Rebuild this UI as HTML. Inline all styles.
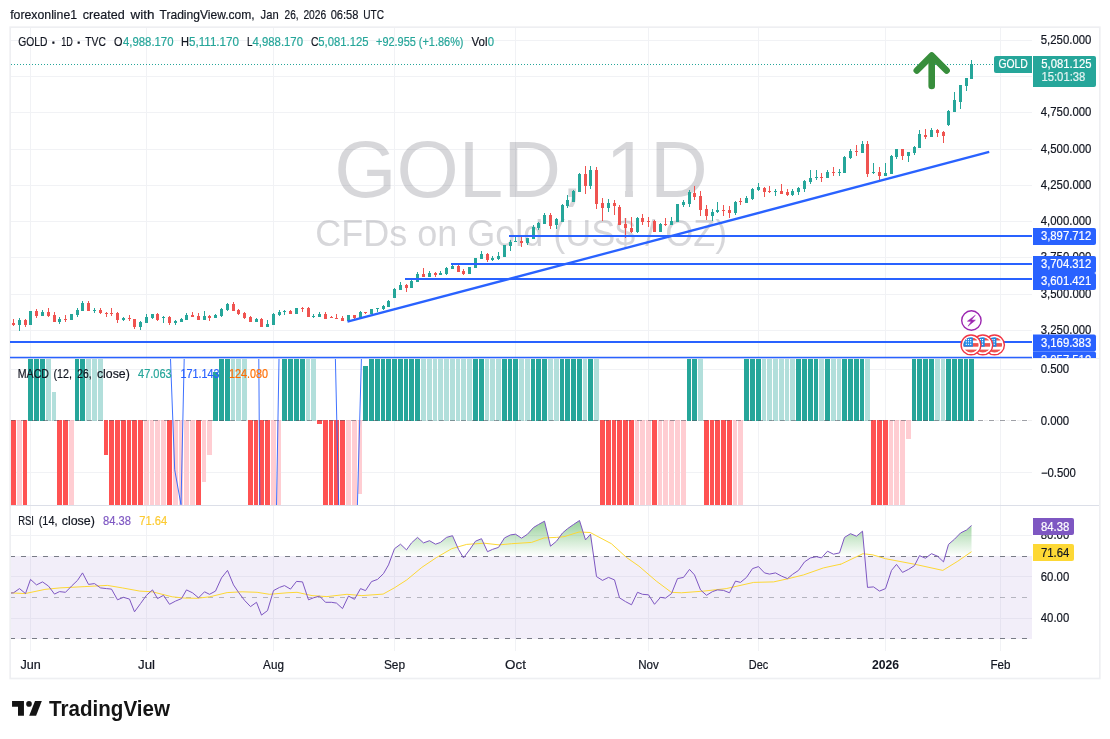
<!DOCTYPE html>
<html lang="en"><head><meta charset="utf-8"><title>GOLD 1D chart</title>
<style>html,body{margin:0;padding:0;background:#fff}svg{display:block;will-change:transform}text{white-space:pre}</style>
</head><body>
<svg width="1110" height="739" viewBox="0 0 1110 739" font-family='"Liberation Sans", sans-serif'>
<defs>
<linearGradient id="obg" gradientUnits="userSpaceOnUse" x1="0" y1="494.4" x2="0" y2="556.2"><stop offset="0" stop-color="#4caf50" stop-opacity="1"/><stop offset="1" stop-color="#4caf50" stop-opacity="0"/></linearGradient>
<clipPath id="cpMain"><rect x="10" y="28" width="1022" height="330"/></clipPath>
<clipPath id="cpMacd"><rect x="11" y="359" width="1021" height="146"/></clipPath>
<clipPath id="cpRsi"><rect x="11" y="506" width="1021" height="144"/></clipPath>
<clipPath id="cpScale"><rect x="1032" y="28" width="67.5" height="330"/></clipPath>
<clipPath id="cpFlag"><circle cx="0" cy="0" r="7.6"/></clipPath>
<clipPath id="cpOne"><path d="M600.45 100H655.45V189.9H600.45zM625.0500000000001 189H632.95V200H625.0500000000001z"/></clipPath>
</defs>
<rect width="1110" height="739" fill="#fff"/>
<text y="18.9" font-size="13" fill="#131722" stroke="#131722" stroke-width="0.2"><tspan x="10.2" textLength="66.9" lengthAdjust="spacingAndGlyphs">forexonline1</tspan><tspan x="79.3"> </tspan><tspan x="82.8" textLength="41.9" lengthAdjust="spacingAndGlyphs">created</tspan><tspan x="127.0"> </tspan><tspan x="130.5" textLength="23.9" lengthAdjust="spacingAndGlyphs">with</tspan><tspan x="156.0"> </tspan><tspan x="159.5" textLength="95.2" lengthAdjust="spacingAndGlyphs">TradingView.com,</tspan><tspan x="257.1"> </tspan><tspan x="260.6" textLength="18" lengthAdjust="spacingAndGlyphs">Jan</tspan><tspan x="281.1"> </tspan><tspan x="284.6" textLength="14" lengthAdjust="spacingAndGlyphs">26,</tspan><tspan x="299.9"> </tspan><tspan x="303.4" textLength="22.8" lengthAdjust="spacingAndGlyphs">2026</tspan><tspan x="327.2"> </tspan><tspan x="330.7" textLength="27.7" lengthAdjust="spacingAndGlyphs">06:58</tspan><tspan x="359.7"> </tspan><tspan x="363.2" textLength="20.8" lengthAdjust="spacingAndGlyphs">UTC</tspan></text>
<rect x="10.2" y="27.2" width="1089.6" height="651.3" fill="#fff" stroke="#eeeff2" stroke-width="1.7"/>
<path d="M30.5 28V651 M146.5 28V651 M273.5 28V651 M394.5 28V651 M515.5 28V651 M648.5 28V651 M758.5 28V651 M885.5 28V651 M1000.5 28V651 M11 40.5H1032 M11 76.5H1032 M11 112.5H1032 M11 149.5H1032 M11 185.5H1032 M11 221.5H1032 M11 257.5H1032 M11 294.5H1032 M11 330.5H1032 M11 369.5H1032 M11 472.5H1032 M11 535.5H1032 M11 576.5H1032 M11 618.5H1032" stroke="#f1f2f5" stroke-width="1" fill="none"/>
<g fill="#50535e" fill-opacity="0.23">
<text x="334.3" y="196.8" font-size="80">GOLD, </text>
<g clip-path="url(#cpOne)"><text x="605.45" y="196.8" font-size="80">1</text></g>
<text x="649.95" y="196.8" font-size="80">D</text>
<text x="521.3" y="246.3" font-size="36" text-anchor="middle">CFDs on Gold (US$ / OZ)</text>
</g>
<g clip-path="url(#cpMain)">
<path d="M11 64.5H993" stroke="#26a69a" stroke-width="1" stroke-dasharray="1 2" fill="none"/>
<path d="M19 318h1V331h-1zM18 320h3V325h-3zM30 311h1V325h-1zM29 311h3V325h-3zM42 310h1V316h-1zM41 312h3V316h-3zM59 317h1V324h-1zM58 319h3V322h-3zM71 314h1V320h-1zM70 314h3V320h-3zM77 308h1V317h-1zM76 310h3V315h-3zM82 301h1V311h-1zM81 303h3V311h-3zM94 308h1V313h-1zM93 310h3V311h-3zM123 317h1V321h-1zM122 318h3V320h-3zM140 321h1V330h-1zM139 322h3V327h-3zM146 314h1V323h-1zM145 317h3V323h-3zM152 314h1V319h-1zM151 314h3V318h-3zM163 316h1V323h-1zM162 317h3V318h-3zM175 320h1V325h-1zM174 321h3V323h-3zM181 318h1V322h-1zM180 319h3V322h-3zM186 313h1V320h-1zM185 315h3V320h-3zM204 311h1V320h-1zM203 316h3V320h-3zM215 314h1V318h-1zM214 315h3V318h-3zM221 308h1V317h-1zM220 309h3V316h-3zM227 303h1V311h-1zM226 304h3V310h-3zM256 318h1V322h-1zM255 319h3V322h-3zM267 320h1V327h-1zM266 324h3V327h-3zM273 313h1V325h-1zM272 314h3V325h-3zM279 310h1V316h-1zM278 312h3V315h-3zM284 310h1V315h-1zM283 311h3V312h-3zM296 308h1V314h-1zM295 308h3V314h-3zM313 314h1V318h-1zM312 316h3V317h-3zM319 312h1V317h-1zM318 314h3V317h-3zM348 315h1V321h-1zM347 315h3V321h-3zM360 311h1V318h-1zM359 312h3V318h-3zM371 309h1V314h-1zM370 309h3V314h-3zM377 308h1V312h-1zM376 308h3V309h-3zM383 305h1V310h-1zM382 306h3V309h-3zM388 300h1V307h-1zM387 301h3V307h-3zM394 288h1V298h-1zM393 289h3V298h-3zM400 282h1V290h-1zM399 285h3V290h-3zM411 279h1V288h-1zM410 281h3V288h-3zM417 272h1V282h-1zM416 274h3V282h-3zM429 271h1V277h-1zM428 273h3V277h-3zM440 271h1V275h-1zM439 273h3V275h-3zM446 267h1V275h-1zM445 268h3V274h-3zM452 264h1V269h-1zM451 266h3V269h-3zM469 267h1V274h-1zM468 267h3V274h-3zM475 258h1V268h-1zM474 258h3V268h-3zM481 251h1V259h-1zM480 254h3V259h-3zM492 256h1V261h-1zM491 258h3V260h-3zM498 252h1V260h-1zM497 256h3V259h-3zM504 245h1V257h-1zM503 245h3V257h-3zM510 240h1V251h-1zM509 242h3V246h-3zM515 236h1V242h-1zM514 241h3V242h-3zM527 238h1V245h-1zM526 238h3V243h-3zM533 225h1V239h-1zM532 227h3V239h-3zM538 222h1V230h-1zM537 223h3V228h-3zM544 213h1V224h-1zM543 215h3V224h-3zM556 218h1V229h-1zM555 219h3V225h-3zM562 204h1V222h-1zM561 205h3V222h-3zM567 195h1V208h-1zM566 200h3V206h-3zM573 190h1V202h-1zM572 191h3V202h-3zM579 173h1V192h-1zM578 174h3V192h-3zM590 166h1V189h-1zM589 170h3V186h-3zM608 199h1V212h-1zM607 203h3V208h-3zM637 217h1V233h-1zM636 218h3V232h-3zM660 223h1V232h-1zM659 224h3V232h-3zM671 217h1V225h-1zM670 221h3V225h-3zM677 204h1V222h-1zM676 204h3V222h-3zM683 200h1V207h-1zM682 202h3V205h-3zM689 190h1V207h-1zM688 192h3V204h-3zM712 209h1V221h-1zM711 212h3V216h-3zM717 202h1V213h-1zM716 210h3V212h-3zM735 201h1V215h-1zM734 202h3V213h-3zM746 196h1V203h-1zM745 198h3V203h-3zM752 188h1V200h-1zM751 189h3V199h-3zM758 183h1V191h-1zM757 187h3V190h-3zM775 189h1V196h-1zM774 191h3V192h-3zM792 189h1V196h-1zM791 191h3V195h-3zM798 187h1V195h-1zM797 188h3V192h-3zM804 180h1V192h-1zM803 181h3V189h-3zM810 170h1V184h-1zM809 178h3V182h-3zM816 170h1V180h-1zM815 177h3V178h-3zM827 170h1V178h-1zM826 172h3V178h-3zM839 169h1V176h-1zM838 172h3V173h-3zM844 156h1V173h-1zM843 157h3V173h-3zM850 149h1V159h-1zM849 151h3V158h-3zM862 141h1V153h-1zM861 144h3V153h-3zM873 163h1V174h-1zM872 172h3V173h-3zM885 163h1V176h-1zM884 173h3V176h-3zM891 155h1V174h-1zM890 156h3V174h-3zM896 149h1V159h-1zM895 149h3V157h-3zM908 152h1V162h-1zM907 152h3V156h-3zM914 146h1V155h-1zM913 147h3V153h-3zM919 130h1V148h-1zM918 134h3V148h-3zM931 128h1V137h-1zM930 130h3V137h-3zM948 110h1V126h-1zM947 111h3V125h-3zM954 92h1V112h-1zM953 100h3V112h-3zM960 85h1V109h-1zM959 85h3V102h-3zM966 78h1V91h-1zM965 78h3V86h-3zM971 60h1V79h-1zM970 64h3V79h-3z" fill="#26a69a"/>
<path d="M13 319h1V326h-1zM12 323h3V325h-3zM25 319h1V327h-1zM24 320h3V325h-3zM36 309h1V318h-1zM35 311h3V316h-3zM48 308h1V317h-1zM47 312h3V316h-3zM54 312h1V322h-1zM53 315h3V322h-3zM65 315h1V322h-1zM64 319h3V320h-3zM88 301h1V311h-1zM87 303h3V311h-3zM100 308h1V314h-1zM99 310h3V313h-3zM106 312h1V317h-1zM105 313h3V314h-3zM111 308h1V316h-1zM110 313h3V314h-3zM117 312h1V323h-1zM116 313h3V320h-3zM129 315h1V321h-1zM128 318h3V319h-3zM134 319h1V329h-1zM133 319h3V327h-3zM157 313h1V321h-1zM156 314h3V320h-3zM169 316h1V325h-1zM168 317h3V323h-3zM192 312h1V317h-1zM191 315h3V317h-3zM198 313h1V320h-1zM197 316h3V320h-3zM209 315h1V321h-1zM208 316h3V318h-3zM233 302h1V311h-1zM232 304h3V311h-3zM238 309h1V315h-1zM237 310h3V314h-3zM244 312h1V319h-1zM243 313h3V318h-3zM250 316h1V322h-1zM249 317h3V322h-3zM261 318h1V327h-1zM260 319h3V327h-3zM290 310h1V314h-1zM289 311h3V314h-3zM302 307h1V312h-1zM301 308h3V309h-3zM308 307h1V317h-1zM307 308h3V317h-3zM325 312h1V319h-1zM324 314h3V319h-3zM331 316h1V318h-1zM330 317h3V318h-3zM336 314h1V319h-1zM335 318h3V319h-3zM342 316h1V321h-1zM341 318h3V321h-3zM354 315h1V319h-1zM353 315h3V318h-3zM365 312h1V314h-1zM364 312h3V313h-3zM406 284h1V292h-1zM405 285h3V288h-3zM423 268h1V277h-1zM422 274h3V277h-3zM435 272h1V277h-1zM434 273h3V275h-3zM458 264h1V272h-1zM457 266h3V272h-3zM463 269h1V275h-1zM462 271h3V274h-3zM487 253h1V262h-1zM486 254h3V260h-3zM521 236h1V247h-1zM520 241h3V243h-3zM550 213h1V229h-1zM549 215h3V226h-3zM585 166h1V194h-1zM584 174h3V186h-3zM596 167h1V209h-1zM595 170h3V204h-3zM602 198h1V221h-1zM601 203h3V208h-3zM614 200h1V215h-1zM613 203h3V206h-3zM619 205h1V225h-1zM618 207h3V225h-3zM625 218h1V238h-1zM624 224h3V228h-3zM631 217h1V233h-1zM630 228h3V232h-3zM642 214h1V225h-1zM641 218h3V222h-3zM648 217h1V227h-1zM647 221h3V222h-3zM654 220h1V232h-1zM653 221h3V232h-3zM665 218h1V226h-1zM664 224h3V225h-3zM694 186h1V200h-1zM693 193h3V197h-3zM700 191h1V216h-1zM699 196h3V210h-3zM706 205h1V220h-1zM705 209h3V216h-3zM723 205h1V216h-1zM722 210h3V211h-3zM729 206h1V218h-1zM728 210h3V213h-3zM740 198h1V205h-1zM739 201h3V202h-3zM764 187h1V197h-1zM763 188h3V192h-3zM769 186h1V193h-1zM768 191h3V192h-3zM781 184h1V194h-1zM780 191h3V194h-3zM787 189h1V196h-1zM786 192h3V195h-3zM821 173h1V182h-1zM820 177h3V178h-3zM833 167h1V176h-1zM832 172h3V173h-3zM856 145h1V156h-1zM855 151h3V152h-3zM867 141h1V177h-1zM866 144h3V174h-3zM879 167h1V181h-1zM878 172h3V176h-3zM902 149h1V160h-1zM901 149h3V156h-3zM925 129h1V139h-1zM924 135h3V137h-3zM937 129h1V137h-1zM936 130h3V133h-3zM943 131h1V143h-1zM942 132h3V136h-3z" fill="#ef5350"/>
<g stroke="#2962ff" stroke-width="2" fill="none" stroke-linecap="butt">
<path d="M509 236H1032"/>
<path d="M451 264H1032"/>
<path d="M405 279H1032"/>
<path d="M10 342H1032"/>
<path d="M347.5 321.7L989.2 151.9" stroke-width="2.3"/>
</g>
<g stroke="#388e3c" stroke-width="6.6" fill="none" stroke-linecap="round" stroke-linejoin="round">
<path d="M931.7 86V57"/><path d="M916.8 70.5L931.7 55.6L946.6 70.5"/>
</g>
<g>
<circle cx="971.4" cy="320.5" r="9.7" fill="#fff" stroke="#9c27b0" stroke-width="1.4"/>
<path d="M975.3 315.2L967.4 321.2L971.3 321.4L968 326.2L975.4 320.2L971.5 319.9z" fill="#9c27b0" stroke="#9c27b0" stroke-width="0.5" stroke-linejoin="round"/>
<g transform="translate(994.5,344.9)">
<circle r="9.9" fill="#fff" stroke="#f23645" stroke-width="1.4"/>
<g clip-path="url(#cpFlag)">
<rect x="-8" y="-8" width="16" height="16" fill="#fff"/>
<rect x="-8" y="-7.0" width="16" height="2.6" fill="#ef5350"/>
<rect x="-8" y="-1.8" width="16" height="3.6" fill="#ef5350"/>
<rect x="-8" y="4.7" width="16" height="3.6" fill="#ef5350"/>
<rect x="-8" y="-8" width="9.9" height="9.8" fill="#1e88e5"/>
<rect x="-5.3" y="-5.9" width="1.2" height="1.2" fill="#fff"/><rect x="-5.3" y="-3.7" width="1.2" height="1.2" fill="#fff"/><rect x="-5.3" y="-1.2" width="1.2" height="1.2" fill="#fff"/><rect x="-3.1" y="-5.9" width="1.2" height="1.2" fill="#fff"/><rect x="-3.1" y="-3.7" width="1.2" height="1.2" fill="#fff"/><rect x="-3.1" y="-1.2" width="1.2" height="1.2" fill="#fff"/><rect x="-0.9" y="-5.9" width="1.2" height="1.2" fill="#fff"/><rect x="-0.9" y="-3.7" width="1.2" height="1.2" fill="#fff"/><rect x="-0.9" y="-1.2" width="1.2" height="1.2" fill="#fff"/>
</g></g>
<g transform="translate(982.8,344.9)">
<circle r="9.9" fill="#fff" stroke="#f23645" stroke-width="1.4"/>
<g clip-path="url(#cpFlag)">
<rect x="-8" y="-8" width="16" height="16" fill="#fff"/>
<rect x="-8" y="-7.0" width="16" height="2.6" fill="#ef5350"/>
<rect x="-8" y="-1.8" width="16" height="3.6" fill="#ef5350"/>
<rect x="-8" y="4.7" width="16" height="3.6" fill="#ef5350"/>
<rect x="-8" y="-8" width="9.9" height="9.8" fill="#1e88e5"/>
<rect x="-5.3" y="-5.9" width="1.2" height="1.2" fill="#fff"/><rect x="-5.3" y="-3.7" width="1.2" height="1.2" fill="#fff"/><rect x="-5.3" y="-1.2" width="1.2" height="1.2" fill="#fff"/><rect x="-3.1" y="-5.9" width="1.2" height="1.2" fill="#fff"/><rect x="-3.1" y="-3.7" width="1.2" height="1.2" fill="#fff"/><rect x="-3.1" y="-1.2" width="1.2" height="1.2" fill="#fff"/><rect x="-0.9" y="-5.9" width="1.2" height="1.2" fill="#fff"/><rect x="-0.9" y="-3.7" width="1.2" height="1.2" fill="#fff"/><rect x="-0.9" y="-1.2" width="1.2" height="1.2" fill="#fff"/>
</g></g>
<g transform="translate(971,344.9)">
<circle r="9.9" fill="#fff" stroke="#f23645" stroke-width="1.4"/>
<g clip-path="url(#cpFlag)">
<rect x="-8" y="-8" width="16" height="16" fill="#fff"/>
<rect x="-8" y="-7.0" width="16" height="2.6" fill="#ef5350"/>
<rect x="-8" y="-1.8" width="16" height="3.6" fill="#ef5350"/>
<rect x="-8" y="4.7" width="16" height="3.6" fill="#ef5350"/>
<rect x="-8" y="-8" width="9.9" height="9.8" fill="#1e88e5"/>
<rect x="-5.3" y="-5.9" width="1.2" height="1.2" fill="#fff"/><rect x="-5.3" y="-3.7" width="1.2" height="1.2" fill="#fff"/><rect x="-5.3" y="-1.2" width="1.2" height="1.2" fill="#fff"/><rect x="-3.1" y="-5.9" width="1.2" height="1.2" fill="#fff"/><rect x="-3.1" y="-3.7" width="1.2" height="1.2" fill="#fff"/><rect x="-3.1" y="-1.2" width="1.2" height="1.2" fill="#fff"/><rect x="-0.9" y="-5.9" width="1.2" height="1.2" fill="#fff"/><rect x="-0.9" y="-3.7" width="1.2" height="1.2" fill="#fff"/><rect x="-0.9" y="-1.2" width="1.2" height="1.2" fill="#fff"/>
</g></g>
</g>
</g>
<path d="M996 56H1032V73H996a2 2 0 0 1-2-2V58a2 2 0 0 1 2-2z" fill="#26a69a"/>
<text x="998.4" y="68.4" font-size="12" fill="#fff" stroke="#fff" stroke-width="0.2" text-anchor="start" font-weight="normal" textLength="29.4" lengthAdjust="spacingAndGlyphs">GOLD</text>
<path d="M1033 56H1094a2 2 0 0 1 2 2V85a2 2 0 0 1-2 2H1033z" fill="#26a69a"/>
<text x="1041.3" y="67.5" font-size="12" fill="#fff" stroke="#fff" stroke-width="0.2" text-anchor="start" font-weight="normal" textLength="50.2" lengthAdjust="spacingAndGlyphs">5,081.125</text>
<text x="1041.4" y="81.4" font-size="12" fill="#fff" stroke="#fff" stroke-width="0.2" text-anchor="start" font-weight="normal" textLength="44.0" lengthAdjust="spacingAndGlyphs" fill-opacity="0.85" stroke-opacity="0.85">15:01:38</text>
<g clip-path="url(#cpScale)">
<text x="1040.8" y="43.8" font-size="12.3" fill="#131722" stroke="#131722" stroke-width="0.2" text-anchor="start" font-weight="normal" textLength="50.6" lengthAdjust="spacingAndGlyphs">5,250.000</text>
<text x="1040.8" y="115.8" font-size="12.3" fill="#131722" stroke="#131722" stroke-width="0.2" text-anchor="start" font-weight="normal" textLength="50.6" lengthAdjust="spacingAndGlyphs">4,750.000</text>
<text x="1040.8" y="152.8" font-size="12.3" fill="#131722" stroke="#131722" stroke-width="0.2" text-anchor="start" font-weight="normal" textLength="50.6" lengthAdjust="spacingAndGlyphs">4,500.000</text>
<text x="1040.8" y="188.8" font-size="12.3" fill="#131722" stroke="#131722" stroke-width="0.2" text-anchor="start" font-weight="normal" textLength="50.6" lengthAdjust="spacingAndGlyphs">4,250.000</text>
<text x="1040.8" y="224.8" font-size="12.3" fill="#131722" stroke="#131722" stroke-width="0.2" text-anchor="start" font-weight="normal" textLength="50.6" lengthAdjust="spacingAndGlyphs">4,000.000</text>
<text x="1040.8" y="260.8" font-size="12.3" fill="#131722" stroke="#131722" stroke-width="0.2" text-anchor="start" font-weight="normal" textLength="50.6" lengthAdjust="spacingAndGlyphs">3,750.000</text>
<text x="1040.8" y="297.8" font-size="12.3" fill="#131722" stroke="#131722" stroke-width="0.2" text-anchor="start" font-weight="normal" textLength="50.6" lengthAdjust="spacingAndGlyphs">3,500.000</text>
<text x="1040.8" y="333.8" font-size="12.3" fill="#131722" stroke="#131722" stroke-width="0.2" text-anchor="start" font-weight="normal" textLength="50.6" lengthAdjust="spacingAndGlyphs">3,250.000</text>
<path d="M1033 228H1094a2 2 0 0 1 2 2V243a2 2 0 0 1-2 2H1033z" fill="#2962ff"/>
<text x="1040.9" y="240.1" font-size="12" fill="#fff" stroke="#fff" stroke-width="0.2" text-anchor="start" font-weight="normal" textLength="50.3" lengthAdjust="spacingAndGlyphs">3,897.712</text>
<path d="M1033 256H1094a2 2 0 0 1 2 2V271a2 2 0 0 1-2 2H1033z" fill="#2962ff"/>
<text x="1040.9" y="268.1" font-size="12" fill="#fff" stroke="#fff" stroke-width="0.2" text-anchor="start" font-weight="normal" textLength="50.3" lengthAdjust="spacingAndGlyphs">3,704.312</text>
<path d="M1033 273H1094a2 2 0 0 1 2 2V288a2 2 0 0 1-2 2H1033z" fill="#2962ff"/>
<text x="1040.9" y="285.1" font-size="12" fill="#fff" stroke="#fff" stroke-width="0.2" text-anchor="start" font-weight="normal" textLength="50.3" lengthAdjust="spacingAndGlyphs">3,601.421</text>
<path d="M1033 334.5H1094a2 2 0 0 1 2 2V349.5a2 2 0 0 1-2 2H1033z" fill="#2962ff"/>
<text x="1040.9" y="346.6" font-size="12" fill="#fff" stroke="#fff" stroke-width="0.2" text-anchor="start" font-weight="normal" textLength="50.3" lengthAdjust="spacingAndGlyphs">3,169.383</text>
<path d="M1033 351.5H1094a2 2 0 0 1 2 2V366.5a2 2 0 0 1-2 2H1033z" fill="#2962ff"/>
<text x="1040.9" y="363.6" font-size="12" fill="#fff" stroke="#fff" stroke-width="0.2" text-anchor="start" font-weight="normal" textLength="50.3" lengthAdjust="spacingAndGlyphs">3,057.519</text>
</g>
<text y="45.7" font-size="13" fill="#131722" stroke="#131722" stroke-width="0.2"><tspan x="18.2" textLength="29.2" lengthAdjust="spacingAndGlyphs">GOLD</tspan><tspan x="48"> </tspan><tspan x="51.3" stroke-width="0.9">· </tspan><tspan x="61.2" textLength="11.6" lengthAdjust="spacingAndGlyphs">1D</tspan><tspan x="73"> </tspan><tspan x="76.5" stroke-width="0.9">· </tspan><tspan x="85.3" textLength="20.6" lengthAdjust="spacingAndGlyphs">TVC</tspan></text>
<text x="114.0" y="45.7" font-size="13" fill="#131722" stroke="#131722" stroke-width="0.2" text-anchor="start" font-weight="normal" textLength="8.5" lengthAdjust="spacingAndGlyphs">O</text>
<text x="123.0" y="45.7" font-size="13" fill="#26a69a" stroke="#26a69a" stroke-width="0.2" text-anchor="start" font-weight="normal" textLength="50.5" lengthAdjust="spacingAndGlyphs">4,988.170</text>
<text x="181.0" y="45.7" font-size="13" fill="#131722" stroke="#131722" stroke-width="0.2" text-anchor="start" font-weight="normal" textLength="8.0" lengthAdjust="spacingAndGlyphs">H</text>
<text x="189.0" y="45.7" font-size="13" fill="#26a69a" stroke="#26a69a" stroke-width="0.2" text-anchor="start" font-weight="normal" textLength="50.0" lengthAdjust="spacingAndGlyphs">5,111.170</text>
<text x="247.0" y="45.7" font-size="13" fill="#131722" stroke="#131722" stroke-width="0.2" text-anchor="start" font-weight="normal" textLength="5.5" lengthAdjust="spacingAndGlyphs">L</text>
<text x="252.5" y="45.7" font-size="13" fill="#26a69a" stroke="#26a69a" stroke-width="0.2" text-anchor="start" font-weight="normal" textLength="50.5" lengthAdjust="spacingAndGlyphs">4,988.170</text>
<text x="311.0" y="45.7" font-size="13" fill="#131722" stroke="#131722" stroke-width="0.2" text-anchor="start" font-weight="normal" textLength="7.5" lengthAdjust="spacingAndGlyphs">C</text>
<text x="318.3" y="45.7" font-size="13" fill="#26a69a" stroke="#26a69a" stroke-width="0.2" text-anchor="start" font-weight="normal" textLength="50.2" lengthAdjust="spacingAndGlyphs">5,081.125</text>
<text x="376.0" y="45.7" font-size="13" fill="#26a69a" stroke="#26a69a" stroke-width="0.2" text-anchor="start" font-weight="normal" textLength="87.5" lengthAdjust="spacingAndGlyphs">+92.955 (+1.86%)</text>
<text x="471.5" y="45.7" font-size="13" fill="#131722" stroke="#131722" stroke-width="0.2" text-anchor="start" font-weight="normal" textLength="16.0" lengthAdjust="spacingAndGlyphs">Vol</text>
<text x="487.7" y="45.7" font-size="13" fill="#26a69a" stroke="#26a69a" stroke-width="0.2" text-anchor="start" font-weight="normal" textLength="6.3" lengthAdjust="spacingAndGlyphs">0</text>
<path d="M11 358.5H1099" stroke="#eeeff2" stroke-width="1"/>
<path d="M10 357.5H1032" stroke="#2962ff" stroke-width="1.35" fill="none"/>
<g clip-path="url(#cpMacd)">
<path d="M28 359h5V421h-5zM34 359h5V421h-5zM40 359h5V421h-5zM75 359h4V421h-4zM80 359h5V421h-5zM213 372h5V421h-5zM219 359h5V421h-5zM225 359h5V421h-5zM282 359h5V421h-5zM288 359h5V421h-5zM294 359h5V421h-5zM300 359h5V421h-5zM363 366h5V421h-5zM369 359h5V421h-5zM375 359h5V421h-5zM381 359h4V421h-4zM386 359h5V421h-5zM392 359h5V421h-5zM398 359h5V421h-5zM404 359h4V421h-4zM409 359h5V421h-5zM415 359h5V421h-5zM473 359h5V421h-5zM479 359h5V421h-5zM502 359h5V421h-5zM508 359h4V421h-4zM513 359h5V421h-5zM531 359h4V421h-4zM536 359h5V421h-5zM542 359h5V421h-5zM560 359h4V421h-4zM565 359h5V421h-5zM571 359h5V421h-5zM577 359h5V421h-5zM588 359h5V421h-5zM687 359h4V421h-4zM692 359h5V421h-5zM744 359h5V421h-5zM750 359h5V421h-5zM756 359h5V421h-5zM796 359h5V421h-5zM802 359h5V421h-5zM808 359h5V421h-5zM814 359h4V421h-4zM825 359h5V421h-5zM842 359h5V421h-5zM848 359h5V421h-5zM854 359h5V421h-5zM860 359h4V421h-4zM912 359h4V421h-4zM917 359h5V421h-5zM923 359h5V421h-5zM929 359h5V421h-5zM946 359h5V421h-5zM952 359h5V421h-5zM958 359h5V421h-5zM964 359h4V421h-4zM969 359h5V421h-5z" fill="#26a69a"/>
<path d="M46 359h5V421h-5zM52 392h4V421h-4zM86 359h5V421h-5zM92 359h5V421h-5zM98 359h5V421h-5zM231 359h4V421h-4zM236 359h5V421h-5zM242 359h5V421h-5zM306 359h4V421h-4zM311 359h5V421h-5zM421 359h5V421h-5zM427 359h5V421h-5zM433 359h4V421h-4zM438 359h5V421h-5zM444 359h5V421h-5zM450 359h5V421h-5zM456 359h4V421h-4zM461 359h5V421h-5zM467 359h5V421h-5zM485 359h4V421h-4zM490 359h5V421h-5zM496 359h5V421h-5zM519 359h5V421h-5zM525 359h5V421h-5zM548 359h5V421h-5zM554 359h5V421h-5zM583 359h4V421h-4zM594 359h5V421h-5zM698 359h5V421h-5zM762 359h4V421h-4zM767 359h5V421h-5zM773 359h5V421h-5zM779 359h5V421h-5zM785 359h4V421h-4zM790 359h5V421h-5zM819 359h5V421h-5zM831 359h5V421h-5zM837 359h4V421h-4zM865 359h5V421h-5zM935 359h5V421h-5zM941 359h4V421h-4z" fill="#b2dfdb"/>
<path d="M11 420h5V505h-5zM23 420h4V505h-4zM57 420h5V505h-5zM63 420h5V505h-5zM104 420h4V455h-4zM109 420h5V505h-5zM115 420h5V505h-5zM121 420h5V505h-5zM127 420h4V505h-4zM132 420h5V505h-5zM138 420h5V505h-5zM167 420h5V505h-5zM196 420h5V505h-5zM248 420h5V505h-5zM254 420h4V505h-4zM259 420h5V505h-5zM265 420h5V505h-5zM317 420h5V424h-5zM323 420h5V505h-5zM329 420h4V505h-4zM334 420h5V505h-5zM340 420h5V505h-5zM600 420h5V505h-5zM606 420h5V505h-5zM612 420h4V505h-4zM617 420h5V505h-5zM623 420h5V505h-5zM629 420h5V505h-5zM652 420h5V505h-5zM704 420h5V505h-5zM710 420h4V505h-4zM715 420h5V505h-5zM721 420h5V505h-5zM727 420h5V505h-5zM871 420h5V505h-5zM877 420h5V505h-5zM883 420h5V505h-5z" fill="#ff5252"/>
<path d="M17 420h5V505h-5zM69 420h5V505h-5zM144 420h5V505h-5zM150 420h4V505h-4zM155 420h5V505h-5zM161 420h5V505h-5zM173 420h5V505h-5zM179 420h4V505h-4zM184 420h5V505h-5zM190 420h5V505h-5zM202 420h4V482h-4zM207 420h5V455h-5zM271 420h5V505h-5zM277 420h4V505h-4zM346 420h5V505h-5zM352 420h5V505h-5zM358 420h4V494h-4zM635 420h4V505h-4zM640 420h5V505h-5zM646 420h5V505h-5zM658 420h4V505h-4zM663 420h5V505h-5zM669 420h5V505h-5zM675 420h5V505h-5zM681 420h5V505h-5zM733 420h4V505h-4zM738 420h5V505h-5zM889 420h4V505h-4zM894 420h5V505h-5zM900 420h5V505h-5zM906 420h5V439h-5z" fill="#ffcdd2"/>
<path d="M10 420.5H1032" stroke="#50535e" stroke-opacity="0.55" stroke-width="1" stroke-dasharray="5 6" fill="none"/>
<path d="M16 420.5H1032" stroke="#50535e" stroke-opacity="0.09" stroke-width="1" stroke-dasharray="4 7" fill="none"/>
<g stroke="#2962ff" stroke-width="1" fill="none" stroke-opacity="0.9">
<path d="M170.5 359L174.7 469.8L181 504.7L184.2 359"/>
<path d="M258.8 359L259.8 505"/><path d="M279 359L276.5 505"/>
<path d="M335.4 359L338.7 505"/><path d="M361.4 359L357.4 505"/>
</g></g>
<text y="378.4" font-size="13" fill="#131722" stroke="#131722" stroke-width="0.2"><tspan x="17.8" textLength="31.2" lengthAdjust="spacingAndGlyphs">MACD</tspan><tspan x="50.0"> </tspan><tspan x="53.5" textLength="18.5" lengthAdjust="spacingAndGlyphs">(12,</tspan><tspan x="73.8"> </tspan><tspan x="77.3" textLength="14.3" lengthAdjust="spacingAndGlyphs">26,</tspan><tspan x="93.4"> </tspan><tspan x="96.9" textLength="32.9" lengthAdjust="spacingAndGlyphs">close)</tspan></text>
<text x="138.0" y="378.4" font-size="13" fill="#26a69a" stroke="#26a69a" stroke-width="0.2" text-anchor="start" font-weight="normal" textLength="33.7" lengthAdjust="spacingAndGlyphs">47.063</text>
<text x="180.5" y="378.4" font-size="13" fill="#2962ff" stroke="#2962ff" stroke-width="0.2" text-anchor="start" font-weight="normal" textLength="39.0" lengthAdjust="spacingAndGlyphs">171.143</text>
<text x="228.9" y="378.4" font-size="13" fill="#ff6d00" stroke="#ff6d00" stroke-width="0.2" text-anchor="start" font-weight="normal" textLength="39.0" lengthAdjust="spacingAndGlyphs">124.080</text>
<text x="1040.7" y="372.6" font-size="12" fill="#131722" stroke="#131722" stroke-width="0.2" text-anchor="start" font-weight="normal" textLength="28.5" lengthAdjust="spacingAndGlyphs">0.500</text>
<text x="1040.7" y="424.6" font-size="12" fill="#131722" stroke="#131722" stroke-width="0.2" text-anchor="start" font-weight="normal" textLength="28.5" lengthAdjust="spacingAndGlyphs">0.000</text>
<text x="1040.9" y="476.6" font-size="12" fill="#131722" stroke="#131722" stroke-width="0.2" text-anchor="start" font-weight="normal" textLength="35.0" lengthAdjust="spacingAndGlyphs">−0.500</text>
<path d="M11 505.5H1099" stroke="#dcdfe8" stroke-width="1"/>
<g clip-path="url(#cpRsi)">
<rect x="11" y="556" width="1021" height="83" fill="#7e57c2" fill-opacity="0.1"/>
<path d="M30.5 556V639 M146.5 556V639 M273.5 556V639 M394.5 556V639 M515.5 556V639 M648.5 556V639 M758.5 556V639 M885.5 556V639 M1000.5 556V639 M11 576.5H1032 M11 618.5H1032" stroke="#e6e3f0" stroke-width="1" fill="none"/>
<path d="M10 556.5H1032M10 638.5H1032" stroke="#787b86" stroke-width="1" stroke-dasharray="5 6" fill="none"/>
<path d="M10 597.5H1032" stroke="#787b86" stroke-opacity="0.5" stroke-width="1" stroke-dasharray="5 6" fill="none"/>
<path d="M391.6 556.5L394.5 548.7L400.5 544.2L406.5 549.9L411.5 542.9L417.5 537.4L423.5 542.9L429.5 540.7L435.5 544.2L440.5 542.4L446.5 537.4L452.5 535.7L458.5 549.4L462.7 556.5z M464.6 556.5L469.5 549.9L475.5 541.2L481.5 538.7L487.5 551.7L492.5 549.4L498.5 547.4L504.5 537.9L510.5 534.9L515.5 534.2L521.5 538.2L527.5 534.2L533.5 527.5L538.5 524.5L544.5 521.2L550.5 546.2L556.5 541.2L562.5 533.0L567.5 528.7L573.5 524.5L579.5 520.5L585.5 539.9L590.5 534.2L593.7 556.5z M822.8 556.5L827.5 551.2L833.5 554.2L839.5 552.9L844.5 537.4L850.5 533.7L856.5 536.2L862.5 531.2L864.8 556.5z M919.1 556.5L919.5 555.7L921.5 556.5z M927.7 556.5L931.5 553.7L937.5 556.2L937.9 556.5z M945.0 556.5L948.5 544.4L954.5 539.2L960.5 533.0L966.5 530.0L971.5 525.5L971.5 556.5z" fill="url(#obg)"/>
<path d="M10.0 592.8L25.0 593.6L44.9 589.4L59.9 587.9L84.9 586.6L107.3 585.4L122.3 587.9L139.8 591.1L152.3 591.8L172.2 596.8L184.7 598.1L197.2 598.3L209.7 596.8L227.1 592.6L242.1 591.8L257.1 592.3L269.5 594.3L287.0 592.8L297.0 592.3L312.0 595.6L326.9 596.6L346.9 594.3L361.9 595.6L383.1 594.1L394.3 587.9L406.8 579.9L421.8 567.4L436.7 557.4L451.7 548.7L466.7 544.4L484.2 543.2L499.1 544.9L511.6 543.7L531.6 542.4L544.1 537.9L556.5 537.4L564.0 536.7L579.0 532.0L590.2 532.5L611.4 543.7L626.4 557.4L638.9 566.1L656.3 581.1L671.3 592.3L681.3 592.8L703.8 591.1L726.2 588.6L753.7 582.4L773.6 581.9L788.6 578.6L803.6 574.9L823.5 567.9L841.0 564.1L840.5 564.4L862.9 553.7L872.9 554.9L885.4 558.7L915.4 564.4L942.8 570.4L957.8 561.2L971.5 551.7" stroke="#fdd835" stroke-width="1" fill="none" stroke-linejoin="round"/>
<path d="M10.5 593.1L13.5 592.8L19.5 588.6L25.5 593.6L30.5 579.4L36.5 584.9L42.5 581.9L48.5 586.1L54.5 594.1L59.5 591.6L65.5 592.3L71.5 586.1L77.5 580.4L82.5 572.9L88.5 584.4L94.5 583.6L100.5 587.9L106.5 588.6L111.5 589.1L117.5 599.8L123.5 597.3L129.5 599.1L134.5 611.8L140.5 603.6L146.5 595.3L152.5 589.9L157.5 598.6L163.5 595.3L169.5 604.3L175.5 601.1L181.5 598.6L186.5 589.9L192.5 592.8L198.5 597.8L204.5 591.8L209.5 594.3L215.5 591.1L221.5 577.9L227.5 570.4L233.5 584.9L238.5 592.3L244.5 600.3L250.5 606.6L256.5 602.3L261.5 615.1L267.5 610.6L273.5 590.6L279.5 587.4L284.5 585.6L290.5 589.1L296.5 581.4L302.5 581.9L308.5 599.8L313.5 597.8L319.5 596.1L325.5 602.3L331.5 602.3L336.5 603.1L342.5 608.6L348.5 596.1L354.5 599.3L360.5 588.6L365.5 590.6L371.5 581.6L377.5 579.4L383.5 573.6L388.5 564.9L394.5 548.7L400.5 544.2L406.5 549.9L411.5 542.9L417.5 537.4L423.5 542.9L429.5 540.7L435.5 544.2L440.5 542.4L446.5 537.4L452.5 535.7L458.5 549.4L463.5 557.9L469.5 549.9L475.5 541.2L481.5 538.7L487.5 551.7L492.5 549.4L498.5 547.4L504.5 537.9L510.5 534.9L515.5 534.2L521.5 538.2L527.5 534.2L533.5 527.5L538.5 524.5L544.5 521.2L550.5 546.2L556.5 541.2L562.5 533.0L567.5 528.7L573.5 524.5L579.5 520.5L585.5 539.9L590.5 534.2L596.5 576.6L602.5 580.4L608.5 577.4L614.5 579.9L619.5 597.8L625.5 601.6L631.5 604.8L637.5 592.3L642.5 594.3L648.5 594.8L654.5 604.3L660.5 597.3L665.5 598.1L671.5 593.6L677.5 578.6L683.5 577.4L689.5 569.4L694.5 574.9L700.5 589.9L706.5 595.3L712.5 591.6L717.5 589.9L723.5 590.4L729.5 592.8L735.5 581.1L740.5 582.4L746.5 577.4L752.5 568.6L758.5 566.6L764.5 572.9L769.5 574.1L775.5 572.9L781.5 576.1L787.5 578.6L792.5 574.4L798.5 570.4L804.5 561.9L810.5 557.9L816.5 556.7L821.5 557.9L827.5 551.2L833.5 554.2L839.5 552.9L844.5 537.4L850.5 533.7L856.5 536.2L862.5 531.2L867.5 587.4L873.5 586.9L879.5 591.1L885.5 588.6L891.5 570.4L896.5 564.4L902.5 572.4L908.5 569.4L914.5 565.6L919.5 555.7L925.5 558.2L931.5 553.7L937.5 556.2L943.5 561.9L948.5 544.4L954.5 539.2L960.5 533.0L966.5 530.0L971.5 525.5" stroke="#7e57c2" stroke-width="1" fill="none" stroke-linejoin="round"/>
</g>
<text y="524.9" font-size="13" fill="#131722" stroke="#131722" stroke-width="0.2"><tspan x="18.2" textLength="15.8" lengthAdjust="spacingAndGlyphs">RSI</tspan><tspan x="35.2"> </tspan><tspan x="38.7" textLength="18.8" lengthAdjust="spacingAndGlyphs">(14,</tspan><tspan x="58.2"> </tspan><tspan x="61.7" textLength="33.2" lengthAdjust="spacingAndGlyphs">close)</tspan></text>
<text x="103.1" y="524.9" font-size="13" fill="#7e57c2" stroke="#7e57c2" stroke-width="0.2" text-anchor="start" font-weight="normal" textLength="27.9" lengthAdjust="spacingAndGlyphs">84.38</text>
<text x="139.3" y="524.9" font-size="13" fill="#fccb33" stroke="#fccb33" stroke-width="0.2" text-anchor="start" font-weight="normal" textLength="27.9" lengthAdjust="spacingAndGlyphs">71.64</text>
<text x="1040.8" y="538.6" font-size="12" fill="#131722" stroke="#131722" stroke-width="0.2" text-anchor="start" font-weight="normal" textLength="28.4" lengthAdjust="spacingAndGlyphs">80.00</text>
<text x="1040.8" y="580.6" font-size="12" fill="#131722" stroke="#131722" stroke-width="0.2" text-anchor="start" font-weight="normal" textLength="28.4" lengthAdjust="spacingAndGlyphs">60.00</text>
<text x="1040.8" y="621.6" font-size="12" fill="#131722" stroke="#131722" stroke-width="0.2" text-anchor="start" font-weight="normal" textLength="28.4" lengthAdjust="spacingAndGlyphs">40.00</text>
<path d="M1033 518H1072a2 2 0 0 1 2 2V533a2 2 0 0 1-2 2H1033z" fill="#7e57c2"/>
<text x="1040.9" y="530.5" font-size="12" fill="#fff" stroke="#fff" stroke-width="0.2" text-anchor="start" font-weight="normal" textLength="28.4" lengthAdjust="spacingAndGlyphs">84.38</text>
<path d="M1033 544H1072a2 2 0 0 1 2 2V559a2 2 0 0 1-2 2H1033z" fill="#fdd835"/>
<text x="1040.9" y="556.5" font-size="12" fill="#131722" stroke="#131722" stroke-width="0.2" text-anchor="start" font-weight="normal" textLength="28.4" lengthAdjust="spacingAndGlyphs">71.64</text>
<text x="20.4" y="668.6" font-size="12" fill="#131722" stroke="#131722" stroke-width="0.2" text-anchor="start" font-weight="normal" textLength="20.3" lengthAdjust="spacingAndGlyphs">Jun</text>
<text x="138.0" y="668.6" font-size="12" fill="#131722" stroke="#131722" stroke-width="0.2" text-anchor="start" font-weight="normal" textLength="17.0" lengthAdjust="spacingAndGlyphs">Jul</text>
<text x="263.1" y="668.6" font-size="12" fill="#131722" stroke="#131722" stroke-width="0.2" text-anchor="start" font-weight="normal" textLength="20.8" lengthAdjust="spacingAndGlyphs">Aug</text>
<text x="383.9" y="668.6" font-size="12" fill="#131722" stroke="#131722" stroke-width="0.2" text-anchor="start" font-weight="normal" textLength="21.2" lengthAdjust="spacingAndGlyphs">Sep</text>
<text x="505.1" y="668.6" font-size="12" fill="#131722" stroke="#131722" stroke-width="0.2" text-anchor="start" font-weight="normal" textLength="20.8" lengthAdjust="spacingAndGlyphs">Oct</text>
<text x="638.2" y="668.6" font-size="12" fill="#131722" stroke="#131722" stroke-width="0.2" text-anchor="start" font-weight="normal" textLength="20.6" lengthAdjust="spacingAndGlyphs">Nov</text>
<text x="748.8" y="668.6" font-size="12" fill="#131722" stroke="#131722" stroke-width="0.2" text-anchor="start" font-weight="normal" textLength="19.4" lengthAdjust="spacingAndGlyphs">Dec</text>
<text x="871.9" y="668.6" font-size="12" fill="#131722" text-anchor="start" font-weight="bold" textLength="27.2" lengthAdjust="spacingAndGlyphs">2026</text>
<text x="990.5" y="668.6" font-size="12" fill="#131722" stroke="#131722" stroke-width="0.2" text-anchor="start" font-weight="normal" textLength="20.0" lengthAdjust="spacingAndGlyphs">Feb</text>
<g fill="#141414">
<path d="M12.05 701.1H23.95V715.8H18V706.8H12.05z"/>
<circle cx="29" cy="703.9" r="2.8"/>
<path d="M35 701.1H41.8L36.1 715.8H29.2z"/>
</g>
<text x="49.1" y="715.8" font-size="21.6" fill="#141414" text-anchor="start" font-weight="bold" textLength="120.8" lengthAdjust="spacingAndGlyphs">TradingView</text>
</svg>
</body></html>
